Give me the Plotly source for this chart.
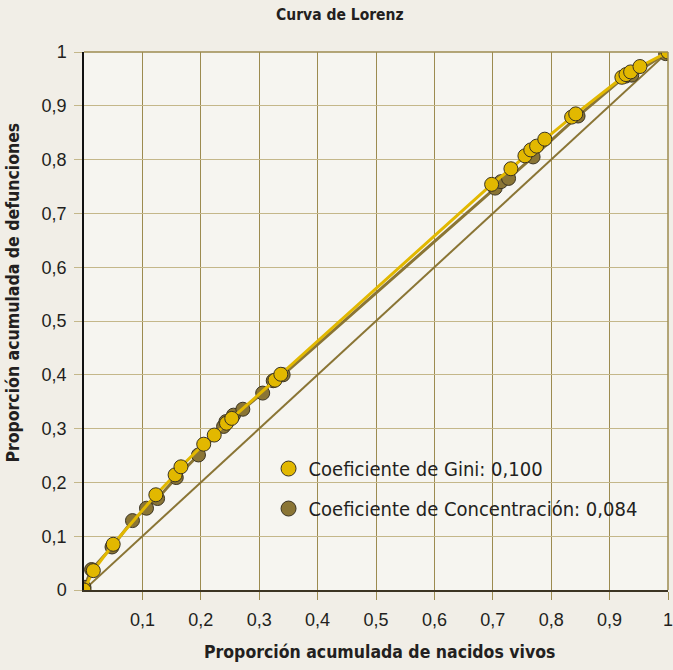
import plotly.graph_objects as go

# Data
gini_x = [0, 0.016, 0.050, 0.123, 0.156, 0.166, 0.205, 0.223, 0.244, 0.253, 0.327, 0.337,
          0.698, 0.731, 0.755, 0.765, 0.775, 0.789, 0.835, 0.842, 0.921, 0.928, 0.936, 0.952, 1.0]
gini_y = [0, 0.036, 0.085, 0.177, 0.214, 0.229, 0.271, 0.288, 0.310, 0.319, 0.390, 0.401,
          0.754, 0.783, 0.807, 0.818, 0.825, 0.838, 0.879, 0.885, 0.953, 0.958, 0.963, 0.973, 1.0]

conc_x = [0, 0.013, 0.048, 0.083, 0.107, 0.126, 0.158, 0.196, 0.239, 0.243, 0.256, 0.272,
          0.306, 0.324, 0.341, 0.704, 0.714, 0.727, 0.769, 0.846, 0.927, 0.938, 0.996]
conc_y = [0.005, 0.038, 0.080, 0.129, 0.152, 0.170, 0.209, 0.251, 0.304, 0.313, 0.325, 0.336,
          0.366, 0.389, 0.400, 0.747, 0.759, 0.765, 0.805, 0.881, 0.955, 0.957, 0.997]

equal_x = [0, 1]
equal_y = [0, 1]

x_tickvals = [0.1, 0.2, 0.3, 0.4, 0.5, 0.6, 0.7, 0.8, 0.9, 1.0]
x_ticktext = ["0,1", "0,2", "0,3", "0,4", "0,5", "0,6", "0,7", "0,8", "0,9", "1"]
y_tickvals = [0, 0.1, 0.2, 0.3, 0.4, 0.5, 0.6, 0.7, 0.8, 0.9, 1.0]
y_ticktext = ["0", "0,1", "0,2", "0,3", "0,4", "0,5", "0,6", "0,7", "0,8", "0,9", "1"]

gini_name = "Coeficiente de Gini: 0,100"
conc_name = "Coeficiente de Concentración: 0,084"

YELLOW = "#e2b800"
OLIVE = "#8a7535"
OUTLINE = "#3a3322"
COND = "DejaVu Sans Condensed, sans-serif"
TICKF = "Liberation Sans, Arial, sans-serif"
TEXT = "#231f20"

fig = go.Figure()

fig.add_trace(go.Scatter(x=equal_x, y=equal_y, mode="lines",
                         line=dict(color=OLIVE, width=2), showlegend=False, hoverinfo="skip"))

fig.add_trace(go.Scatter(x=conc_x, y=conc_y, mode="lines+markers", name=conc_name,
                         line=dict(color=OLIVE, width=3),
                         marker=dict(size=14, color=OLIVE, line=dict(color=OUTLINE, width=1)),
                         showlegend=False))

fig.add_trace(go.Scatter(x=gini_x, y=gini_y, mode="lines+markers", name=gini_name,
                         line=dict(color=YELLOW, width=3),
                         marker=dict(size=14, color=YELLOW, line=dict(color=OUTLINE, width=1)),
                         showlegend=False))

# legend-only entries (markers only, as in the reference)
fig.add_trace(go.Scatter(x=[None], y=[None], mode="markers", name=gini_name,
                         marker=dict(size=15, color=YELLOW, line=dict(color=OUTLINE, width=1)),
                         legendgroup="g", legendrank=1))
fig.add_trace(go.Scatter(x=[None], y=[None], mode="markers", name=conc_name,
                         marker=dict(size=15, color=OLIVE, line=dict(color=OUTLINE, width=1)),
                         legendgroup="c", legendrank=2))

fig.update_layout(
    width=673, height=670,
    margin=dict(l=84, r=0, t=52, b=80),
    paper_bgcolor="#f1eee7",
    plot_bgcolor="#f6f5f0",
    title=dict(text="Curva de Lorenz", x=0.505, xref="container", xanchor="center",
               y=1 - 15 / 670, yref="container", yanchor="middle",
               font=dict(family=COND, size=15.5, color=TEXT, weight="bold")),
    showlegend=True,
    legend=dict(x=0.316, y=0.262, xanchor="left", yanchor="top",
                bgcolor="rgba(0,0,0,0)", font=dict(family=COND, size=20, color=TEXT),
                tracegroupgap=11, itemsizing="trace", itemwidth=30),
    xaxis=dict(range=[0, 1], tickvals=x_tickvals, ticktext=x_ticktext,
               showgrid=True, gridcolor="#9c8b50", gridwidth=1,
               showline=True, linecolor="#3c3423", linewidth=2,
               ticks="outside", ticklen=8, tickcolor="#9c8b50", tickwidth=1,
               tickfont=dict(family=TICKF, size=18, color=TEXT),
               ticklabelstandoff=4, ticklabeloverflow="allow",
               zeroline=False, fixedrange=True),
    yaxis=dict(range=[0, 1], tickvals=y_tickvals, ticktext=y_ticktext,
               showgrid=True, gridcolor="#c4b78a", gridwidth=1,
               showline=True, linecolor="#111111", linewidth=1.5,
               ticks="outside", ticklen=8, tickcolor="#c4b78a", tickwidth=1,
               tickfont=dict(family=TICKF, size=18, color=TEXT),
               ticklabelstandoff=4, zeroline=False, fixedrange=True),
    annotations=[
        dict(text="Proporción acumulada de nacidos vivos", xref="paper", yref="paper",
             x=0.506, y=-(652 - 590) / 538, xanchor="center", yanchor="middle", showarrow=False,
             font=dict(family=COND, size=17.5, color=TEXT, weight="bold")),
        dict(text="Proporción acumulada de defunciones", xref="paper", yref="paper",
             x=(12 - 84) / 589, y=(590 - 293) / 538, xanchor="center", yanchor="middle",
             textangle=-90, showarrow=False,
             font=dict(family=COND, size=17.5, color=TEXT, weight="bold")),
    ],
    shapes=[
        dict(type="line", xref="paper", yref="paper", x0=0, x1=1, y0=1, y1=1,
             line=dict(color="#9c8b50", width=1.5)),
        dict(type="line", xref="paper", yref="paper", x0=1, x1=1, y0=0, y1=1,
             line=dict(color="#9c8b50", width=1.5)),
    ],
)

fig.write_html("out.html", config={"displayModeBar": False},
               post_script="document.body.style.margin='0';document.body.style.overflow='hidden';")
